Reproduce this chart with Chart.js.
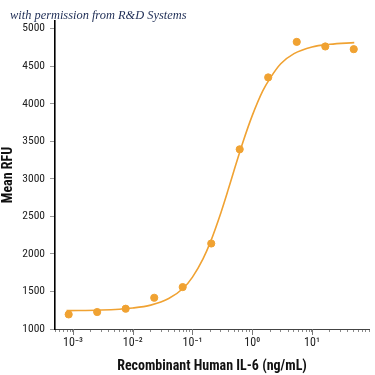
<!DOCTYPE html>
<html>
<head>
<meta charset="utf-8">
<script src="https://cdn.jsdelivr.net/npm/chart.js@4"></script>
<style>
    body { margin: 0; background: #fff; }
    #wrap { position: relative; width: 375px; height: 375px; }
    #note {
        position: absolute; left: 10px; top: 8px;
        font: italic 12.4px "Liberation Serif", "DejaVu Serif", serif;
        color: #1e2d55; white-space: nowrap;
    }
</style>
</head>
<body>
<div id="wrap">
    <canvas id="chart" width="375" height="375"></canvas>
    <div id="note">with permission from R&amp;D Systems</div>
</div>
<script>
// measured points (3-fold dilutions from 50 ng/mL)
const doses = [0.000847, 0.00254, 0.00762, 0.0229, 0.0686, 0.206, 0.617, 1.85, 5.56, 16.7, 50];
const rfu = [1194, 1226, 1270, 1416, 1558, 2138, 3392, 4349, 4822, 4761, 4725];

// fitted curve
const fitDoses = [0.00078, 0.003, 0.01, 0.02, 0.04, 0.07, 0.1, 0.15, 0.2, 0.3, 0.4, 0.5, 0.7, 1, 1.5, 2, 3, 5, 10, 20, 51];
const fitRfu = [1244, 1252, 1280, 1318, 1405, 1542, 1691, 1934, 2160, 2552, 2866, 3119, 3489, 3840, 4170, 4340, 4530, 4665, 4755, 4790, 4812];

const yTicks = [1000, 1500, 2000, 2500, 3000, 3500, 4000, 4500, 5000];
const decades = [-3, -2, -1, 0, 1];

const orange = '#f0a232';
const axisFont = "'Roboto Condensed', 'DejaVu Sans Condensed', sans-serif";

const sup = { '-': '\u207b', '0': '\u2070', '1': '\u00b9', '2': '\u00b2', '3': '\u00b3' };
function powLabel(p)
{
    return '10' + String(p).split('').map(c => sup[c]).join('');
}

// all 1..9 x 10^n ticks inside the range
const xMin = 0.0005, xMax = 90;
const xTickVals = [];
for (let p = -4; p <= 1; p++)
{
    for (let m = 1; m <= 9; m++)
    {
        const v = m * Math.pow(10, p);
        if (v >= xMin * 0.999 && v <= xMax * 1.001) xTickVals.push(v);
    }
}

// longer marks for the decades
const majorTicks = {
    id: 'majorTicks',
    afterDraw(chart)
    {
        const x = chart.scales.x;
        const ctx = chart.ctx;
        ctx.save();
        ctx.strokeStyle = '#777';
        ctx.lineWidth = 1;
        for (const p of decades)
        {
            const px = Math.round(x.getPixelForValue(Math.pow(10, p))) + 0.5;
            ctx.beginPath();
            ctx.moveTo(px, x.top);
            ctx.lineTo(px, x.top + 6);
            ctx.stroke();
        }
        ctx.restore();
    }
};

new Chart(document.getElementById('chart'), {
    type: 'scatter',
    data: {
        datasets: [{
            type: 'line',
            data: fitDoses.map((d, i) => ({ x: d, y: fitRfu[i] })),
            borderColor: orange,
            borderWidth: 1.6,
            pointRadius: 0,
            cubicInterpolationMode: 'monotone',
            fill: false
        }, {
            data: doses.map((d, i) => ({ x: d, y: rfu[i] })),
            backgroundColor: orange,
            borderColor: orange,
            pointRadius: 3.6,
            showLine: false
        }]
    },
    options: {
        responsive: false,
        animation: false,
        layout: { padding: { left: 0, right: 6, top: 21, bottom: 0 } },
        plugins: { legend: { display: false }, tooltip: { enabled: false } },
        scales: {
            x: {
                type: 'logarithmic',
                min: xMin,
                max: xMax,
                afterBuildTicks: scale => { scale.ticks = xTickVals.map(v => ({ value: v })); },
                afterFit: scale => { scale.height = 46; },
                border: { color: '#444', width: 1 },
                grid: { drawOnChartArea: false, tickLength: 3, tickColor: '#888' },
                ticks: {
                    autoSkip: false,
                    maxRotation: 0,
                    padding: 4,
                    color: '#222',
                    font: { family: axisFont, size: 12 },
                    callback: v =>
                    {
                        const p = Math.round(Math.log10(v));
                        return Math.abs(Math.log10(v) - p) < 1e-6 ? powLabel(p) : '';
                    }
                },
                title: {
                    display: true,
                    text: 'Recombinant Human IL-6 (ng/mL)',
                    color: '#111',
                    padding: { top: 3, bottom: 0 },
                    font: { family: axisFont, size: 14, weight: 'bold' }
                }
            },
            y: {
                min: 1000,
                max: 5100,
                afterBuildTicks: scale => { scale.ticks = yTicks.map(v => ({ value: v })); },
                afterFit: scale => { scale.width = 55; },
                border: { color: '#000', width: 1.6 },
                grid: { drawOnChartArea: false, tickLength: 5, tickColor: '#999' },
                ticks: {
                    padding: 5,
                    color: '#222',
                    font: { family: axisFont, size: 11.5 },
                    callback: v => String(v)
                },
                title: {
                    display: true,
                    text: 'Mean RFU',
                    color: '#111',
                    padding: { top: 0, bottom: 3 },
                    font: { family: axisFont, size: 14, weight: 'bold' }
                }
            }
        }
    },
    plugins: [majorTicks]
});
</script>
</body>
</html>
